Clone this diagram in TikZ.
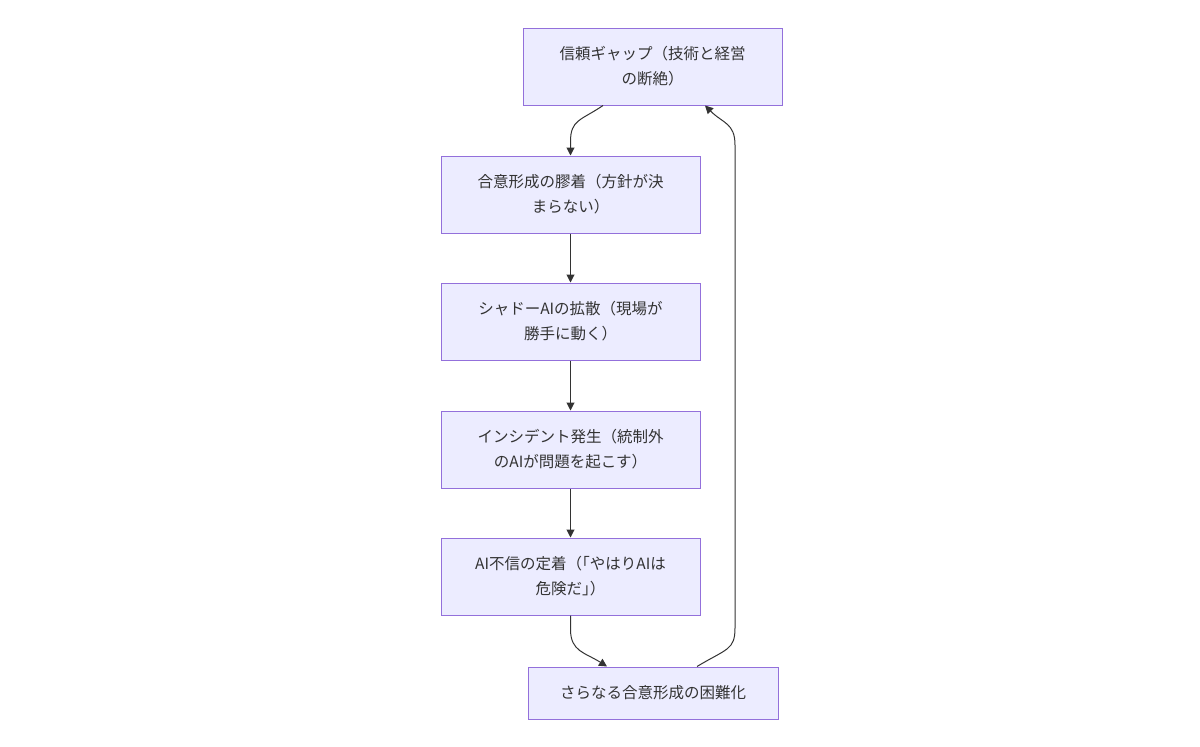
\documentclass[tikz,border=0pt]{standalone}
\usepackage{fontspec}
\newfontfamily\cjk{Noto Sans CJK JP}
\usetikzlibrary{arrows.meta}
\definecolor{boxfill}{HTML}{ECECFF}
\definecolor{boxline}{HTML}{9370DB}
\definecolor{ink}{HTML}{333333}
\tikzset{
  flowbox/.style={draw=boxline, fill=boxfill, line width=1pt, minimum width=259pt, minimum height=77pt,
    inner sep=0pt, align=center, text=ink, font=\cjk\fontsize{15.5}{25}\selectfont},
  edge/.style={draw=ink, line width=1pt, -{Triangle[length=8pt,width=8pt]}}
}
\begin{document}
\begin{tikzpicture}[x=1pt,y=-1pt]
\useasboundingbox (0,0) rectangle (1200,747);
\fill[white] (0,0) rectangle (1200,747);
\node[flowbox] (b1) at (652.5,66.5) {信頼ギャップ（技術と経営\\の断絶）};
\node[flowbox] (b2) at (570.5,194.5) {合意形成の膠着（方針が決\\まらない）};
\node[flowbox] (b3) at (570.5,321.5) {シャドーAIの拡散（現場が\\勝手に動く）};
\node[flowbox] (b4) at (570.5,449.5) {インシデント発生（統制外\\のAIが問題を起こす）};
\node[flowbox] (b5) at (570.5,576.5) {AI不信の定着（｢やはりAIは\\危険だ｣）};
\node[flowbox, minimum width=250pt, minimum height=52pt] (b6) at (653,693) {さらなる合意形成の困難化};
\coordinate (r1) at (735,628);
\coordinate (r2) at (735,145);
\draw[edge] ([xshift=-49.5pt]b1.south) .. controls +(-22,15) and +(0,-22) .. ([yshift=14pt]b2.north) -- (b2.north);
\draw[edge] (b2) -- (b3);
\draw[edge] (b3) -- (b4);
\draw[edge] (b4) -- (b5);
\draw[edge] (b5.south) -- ++(0,14) .. controls +(0,22) and +(-22,-14) .. ([xshift=-46pt]b6.north);
\draw[edge] ([xshift=44pt]b6.north) .. controls +(30,-18) and +(0,22) .. (r1) -- (r2) .. controls +(0,-22) and +(18,18) .. ([xshift=52.5pt]b1.south);
\end{tikzpicture}
\end{document}
